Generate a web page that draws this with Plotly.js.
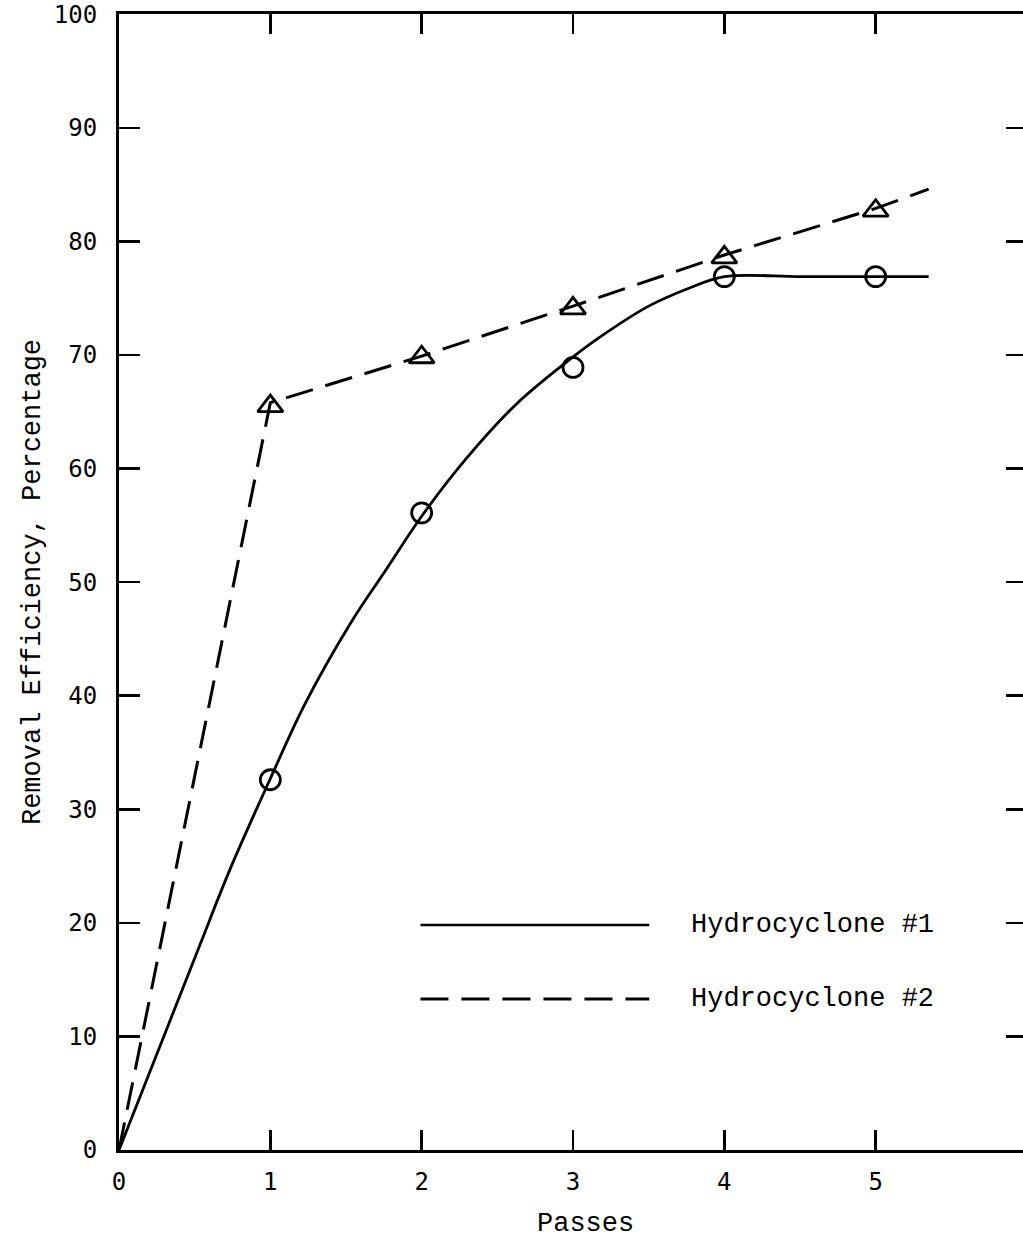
<!DOCTYPE html>
<html>
<head>
<meta charset="utf-8">
<script src="https://cdn.plot.ly/plotly-3.0.1.min.js"></script>
<style>
html,body{margin:0;padding:0;overflow:hidden;background:#fff;}
#chart{width:1030px;height:1243px;}
</style>
</head>
<body>
<div id="chart"></div>
<script>
// Measured points
const passes = [1, 2, 3, 4, 5];
const hc1Points = [32.6, 56.1, 68.9, 76.9, 76.9];
const hc2Points = [65.5, 69.8, 74.1, 78.6, 82.7];

// Curve for Hydrocyclone #1
const hc1CurveX = [0, 0.53, 0.73, 1.0, 1.23, 1.54, 1.76, 2.0, 2.29, 2.62, 2.95, 3.17, 3.5, 3.77, 4.0, 4.5, 5.0, 5.35];
const hc1CurveY = [0, 17.9, 24.6, 32.7, 39.3, 46.6, 51.0, 55.8, 60.8, 65.6, 69.3, 71.5, 74.3, 75.9, 76.9, 76.9, 76.9, 76.9];

// Dashed line for Hydrocyclone #2
const hc2LineX = [0, 1, 2, 3, 4, 5, 5.35];
const hc2LineY = [0, 65.8, 69.9, 74.3, 78.8, 82.9, 84.6];

const legendLabels = ["Hydrocyclone #1", "Hydrocyclone #2"];
const xTitle = "Passes";
const yTitle = "Removal Efficiency, Percentage";

const xTicks = [0, 1, 2, 3, 4, 5];
const yTicks = [0, 10, 20, 30, 40, 50, 60, 70, 80, 90, 100];

const FONT = "Liberation Mono, Courier New, monospace";
const TICKFONT = "DejaVu Sans Mono, Liberation Mono, monospace";

const traces = [
  {x: hc1CurveX, y: hc1CurveY, mode: 'lines', line: {color: '#000', width: 2.8, shape: 'spline', smoothing: 1}, hoverinfo: 'skip'},
  {x: hc2LineX, y: hc2LineY, mode: 'lines', line: {color: '#000', width: 3, dash: '28px,13px'}, hoverinfo: 'skip'},
  {x: passes, y: hc1Points, mode: 'markers', marker: {symbol: 'circle-open', size: 20, color: '#000', line: {width: 2.8, color: '#000'}}},
  {x: passes, y: hc2Points, mode: 'markers', marker: {symbol: 'triangle-up-open', size: 22, color: '#000', line: {width: 2.8, color: '#000'}}}
];

const layout = {
  width: 1030, height: 1243,
  margin: {l: 119, r: 3, t: 14, b: 93},
  paper_bgcolor: '#fff', plot_bgcolor: '#fff',
  showlegend: false,
  xaxis: {
    range: [0, 6], tickvals: xTicks, ticktext: xTicks.map(String),
    ticks: 'inside', ticklen: 20, tickwidth: 2.6, tickcolor: '#000',
    showline: true, linewidth: 3, linecolor: '#000', mirror: 'ticks',
    showgrid: false, zeroline: false,
    tickfont: {family: TICKFONT, size: 24, color: '#000'},
    ticklabelstandoff: 8
  },
  yaxis: {
    range: [0, 100.02], tickvals: yTicks, ticktext: yTicks.map(String),
    ticks: 'inside', ticklen: 21, tickwidth: 2.6, tickcolor: '#000',
    showline: true, linewidth: 3, linecolor: '#000', mirror: 'ticks',
    showgrid: false, zeroline: false,
    ticklabeloverflow: 'allow',
    tickfont: {family: TICKFONT, size: 24, color: '#000'},
    ticklabelstandoff: 14,
    title: {text: yTitle, font: {family: FONT, size: 27, color: '#000'}, standoff: 6}
  },
  shapes: [
    {type: 'line', xref: 'paper', yref: 'paper', x0: 0.332, x1: 0.584, y0: 0.198, y1: 0.198, line: {color: '#000', width: 2.6}},
    {type: 'line', xref: 'paper', yref: 'paper', x0: 0.332, x1: 0.584, y0: 0.133, y1: 0.133, line: {color: '#000', width: 3, dash: '28px,13px'}}
  ],
  annotations: [
    {xref: 'paper', yref: 'paper', x: 0.628, y: 0.198, xanchor: 'left', yanchor: 'middle', text: legendLabels[0], showarrow: false, font: {family: FONT, size: 27, color: '#000'}},
    {xref: 'paper', yref: 'paper', x: 0.628, y: 0.133, xanchor: 'left', yanchor: 'middle', text: legendLabels[1], showarrow: false, font: {family: FONT, size: 27, color: '#000'}},
    {xref: 'paper', yref: 'paper', x: 0.514, y: -0.065, xanchor: 'center', yanchor: 'middle', text: xTitle, showarrow: false, font: {family: FONT, size: 27, color: '#000'}}
  ]
};

Plotly.newPlot('chart', traces, layout, {staticPlot: true, displayModeBar: false});
</script>
</body>
</html>
